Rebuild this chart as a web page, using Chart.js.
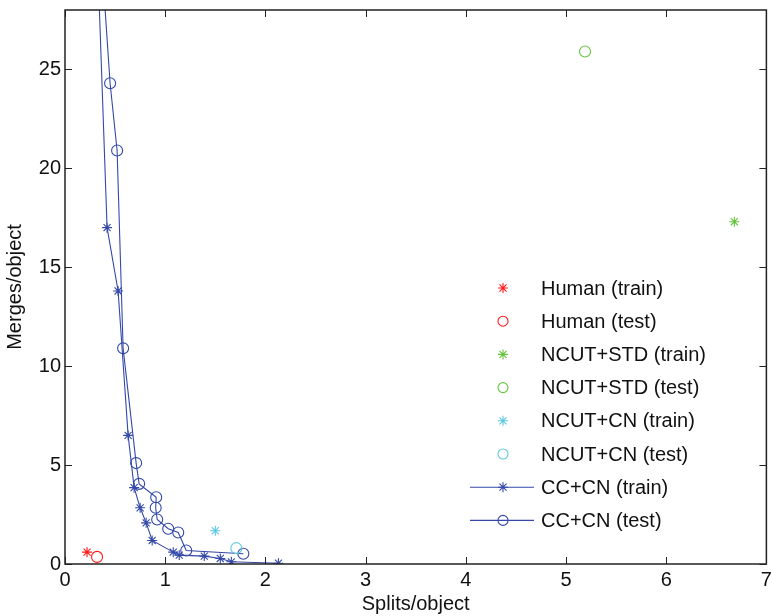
<!DOCTYPE html>
<html>
<head>
<meta charset="utf-8">
<script src="https://cdn.jsdelivr.net/npm/chart.js@4/dist/chart.umd.min.js"></script>
<style>
  html, body { margin: 0; padding: 0; background: #fff; }
  #wrap { width: 773px; height: 616px; }
</style>
</head>
<body>
<div id="wrap"><canvas id="myChart" width="773" height="616"></canvas></div>
<script>
// values (splits/object, merges/object)
const humanTrainX = [0.22];
const humanTrainY = [0.60];
const humanTestX = [0.32];
const humanTestY = [0.36];
const stdTrainX = [6.68];
const stdTrainY = [17.3];
const stdTestX = [5.19];
const stdTestY = [25.9];
const ncTrainX = [1.50];
const ncTrainY = [1.68];
const ncTestX = [1.71];
const ncTestY = [0.80];
const ccTrainX = [0.26, 0.42, 0.53, 0.63, 0.69, 0.75, 0.81, 0.87, 1.08, 1.14, 1.39, 1.55, 1.66, 2.13];
const ccTrainY = [40, 17.0, 13.8, 6.5, 3.86, 2.84, 2.08, 1.19, 0.60, 0.45, 0.40, 0.28, 0.11, 0.04];
const ccTestX = [0.24, 0.45, 0.52, 0.58, 0.71, 0.74, 0.91, 0.905, 0.92, 1.03, 1.13, 1.21, 1.78];
const ccTestY = [40, 24.3, 20.9, 10.9, 5.1, 4.05, 3.37, 2.84, 2.25, 1.78, 1.59, 0.68, 0.52];

const xTicks = [0, 1, 2, 3, 4, 5, 6, 7];
const yTicks = [0, 5, 10, 15, 20, 25];

const RED = '#ff1a1a', GREEN = '#66c43c', CYAN = '#5ec8e0', BLUE = '#3348a8';
const FONT = 'Liberation Sans, Arial, sans-serif';

const pts = (xs, ys) => xs.map((x, i) => ({x: x, y: ys[i]}));

const series = [
    {label: 'Human (train)', data: pts(humanTrainX, humanTrainY), color: RED, style: 'star', line: false},
    {label: 'Human (test)', data: pts(humanTestX, humanTestY), color: RED, style: 'circle', line: false},
    {label: 'NCUT+STD (train)', data: pts(stdTrainX, stdTrainY), color: GREEN, style: 'star', line: false},
    {label: 'NCUT+STD (test)', data: pts(stdTestX, stdTestY), color: GREEN, style: 'circle', line: false},
    {label: 'NCUT+CN (train)', data: pts(ncTrainX, ncTrainY), color: CYAN, style: 'star', line: false},
    {label: 'NCUT+CN (test)', data: pts(ncTestX, ncTestY), color: CYAN, style: 'circle', line: false},
    {label: 'CC+CN (train)', data: pts(ccTrainX, ccTrainY), color: BLUE, style: 'star', line: true},
    {label: 'CC+CN (test)', data: pts(ccTestX, ccTestY), color: BLUE, style: 'circle', line: true}
];

const datasets = series.map(s => ({
    label: s.label,
    data: s.data,
    showLine: s.line,
    borderColor: s.color,
    backgroundColor: 'rgba(0,0,0,0)',
    borderWidth: 1.1,
    pointStyle: s.style,
    pointRadius: s.style === 'circle' ? 5.5 : 5,
    pointBorderColor: s.color,
    pointBackgroundColor: 'rgba(0,0,0,0)',
    pointBorderWidth: 1.1
}));

// frame + inward ticks on all four sides (matlab look)
const framePlugin = {
    id: 'frame',
    afterDatasetsDraw(chart) {
        const {ctx, chartArea: a, scales: {x, y}} = chart;
        ctx.save();
        ctx.strokeStyle = '#222';
        ctx.lineWidth = 1.5;
        ctx.strokeRect(a.left, a.top, a.right - a.left, a.bottom - a.top);
        ctx.lineWidth = 1;
        const len = 7;
        ctx.beginPath();
        xTicks.forEach(v => {
            const px = Math.round(x.getPixelForValue(v)) + 0.5;
            ctx.moveTo(px, a.bottom); ctx.lineTo(px, a.bottom - len);
            ctx.moveTo(px, a.top); ctx.lineTo(px, a.top + len);
        });
        yTicks.forEach(v => {
            const py = Math.round(y.getPixelForValue(v)) + 0.5;
            ctx.moveTo(a.left, py); ctx.lineTo(a.left + len, py);
            ctx.moveTo(a.right, py); ctx.lineTo(a.right - len, py);
        });
        ctx.stroke();
        ctx.restore();
    }
};

// legend drawn inside the plot, no box
const legendPlugin = {
    id: 'insideLegend',
    afterDraw(chart) {
        const ctx = chart.ctx;
        const markX = 503, textX = 541, top = 288, step = 33.2;
        ctx.save();
        ctx.font = '20px ' + FONT;
        ctx.textBaseline = 'middle';
        series.forEach((s, i) => {
            const yy = top + i * step;
            ctx.strokeStyle = s.color;
            ctx.lineWidth = 1.1;
            if (s.line) {
                ctx.beginPath();
                ctx.moveTo(470, yy); ctx.lineTo(534, yy);
                ctx.stroke();
            }
            ctx.fillStyle = 'rgba(0,0,0,0)';
            Chart.helpers.drawPoint(ctx, {
                pointStyle: s.style, radius: 5, rotation: 0, borderWidth: 1.1
            }, markX, yy);
            ctx.fillStyle = '#111';
            ctx.fillText(s.label, textX, yy + 1);
        });
        ctx.restore();
    }
};

new Chart(document.getElementById('myChart').getContext('2d'), {
    type: 'scatter',
    data: {datasets: datasets},
    options: {
        responsive: false,
        animation: false,
        layout: {padding: {top: 10, right: 6, left: 0, bottom: 0}},
        plugins: {
            legend: {display: false},
            tooltip: {enabled: false}
        },
        scales: {
            x: {
                type: 'linear',
                min: 0, max: 7,
                afterFit: s => { s.height = 52; s.paddingLeft = 0; s.paddingRight = 0; },
                afterBuildTicks: s => { s.ticks = xTicks.map(v => ({value: v})); },
                grid: {display: false, drawTicks: false},
                border: {display: false},
                ticks: {padding: 4, color: '#111', font: {family: FONT, size: 20}},
                title: {display: true, text: 'Splits/object', color: '#111',
                        font: {family: FONT, size: 20}, padding: {top: 0, bottom: 0}}
            },
            y: {
                type: 'linear',
                min: 0, max: 28,
                afterFit: s => { s.width = 65; s.paddingTop = 0; s.paddingBottom = 0; },
                afterBuildTicks: s => { s.ticks = yTicks.map(v => ({value: v})); },
                grid: {display: false, drawTicks: false},
                border: {display: false},
                ticks: {padding: 4, color: '#111', font: {family: FONT, size: 20}},
                title: {display: true, text: 'Merges/object', color: '#111',
                        font: {family: FONT, size: 20}, padding: {top: 3, bottom: 0}}
            }
        }
    },
    plugins: [framePlugin, legendPlugin]
});
</script>
</body>
</html>
